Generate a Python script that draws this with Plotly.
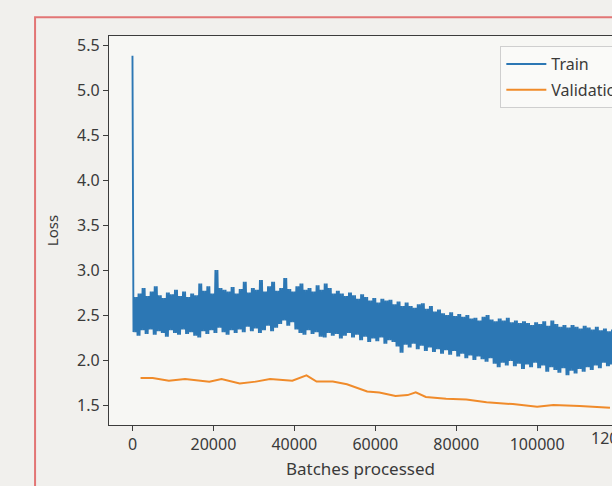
import plotly.graph_objects as go

# ---------------- data ----------------
# Training loss: first logged value (spike), then the low / high readings
# of the noisy band, one pair per 1000 batches.
train_first = 5.38
train_high = [
    2.70, 2.74, 2.80, 2.71, 2.76, 2.82, 2.72, 2.69, 2.75, 2.73,
    2.78, 2.71, 2.76, 2.70, 2.74, 2.72, 2.85, 2.77, 2.82, 2.74,
    3.00, 2.80, 2.78, 2.76, 2.81, 2.74, 2.79, 2.87, 2.75, 2.80,
    2.78, 2.89, 2.76, 2.82, 2.87, 2.77, 2.80, 2.91, 2.79, 2.76,
    2.82, 2.85, 2.78, 2.80, 2.76, 2.83, 2.78, 2.85, 2.80, 2.74,
    2.77, 2.74, 2.71, 2.75, 2.72, 2.68, 2.73, 2.70, 2.66, 2.69,
    2.64, 2.68, 2.66, 2.67, 2.62, 2.65, 2.60, 2.64, 2.60, 2.58,
    2.62, 2.63, 2.57, 2.60, 2.54, 2.56, 2.52, 2.50, 2.53, 2.49,
    2.51, 2.48, 2.50, 2.46, 2.47, 2.44, 2.48, 2.50, 2.45, 2.43,
    2.46, 2.44, 2.47, 2.42, 2.44, 2.41, 2.43, 2.41, 2.39, 2.42,
    2.40, 2.43, 2.38, 2.44, 2.40, 2.37, 2.39, 2.36, 2.39, 2.37,
    2.35, 2.38, 2.36, 2.34, 2.37, 2.33, 2.35, 2.32, 2.34,
]
train_low = [
    2.31, 2.27, 2.33, 2.29, 2.34, 2.28, 2.32, 2.30, 2.26, 2.33,
    2.30, 2.28, 2.34, 2.29, 2.31, 2.27, 2.25, 2.32, 2.29, 2.33,
    2.30, 2.36, 2.31, 2.28, 2.33, 2.30, 2.34, 2.31, 2.37, 2.32,
    2.35, 2.30, 2.33, 2.38, 2.32, 2.36, 2.40, 2.44, 2.38, 2.42,
    2.34, 2.30, 2.28, 2.33, 2.29, 2.31, 2.26, 2.25, 2.30, 2.27,
    2.29, 2.24, 2.27, 2.30, 2.25, 2.28, 2.22, 2.26, 2.20, 2.24,
    2.21, 2.25, 2.18, 2.22, 2.20, 2.15, 2.08, 2.17, 2.14, 2.18,
    2.12, 2.16, 2.10, 2.14, 2.09, 2.12, 2.07, 2.11, 2.06, 2.10,
    2.04, 2.07, 2.02, 2.05, 2.00, 2.04, 2.01, 1.98, 2.02, 1.96,
    1.92, 1.97, 1.94, 1.99, 1.93, 1.96, 1.90, 1.95, 1.92, 1.97,
    1.91, 1.94, 1.87, 1.92, 1.89, 1.86, 1.91, 1.83, 1.88, 1.85,
    1.90, 1.87, 1.92, 1.89, 1.94, 1.91, 1.97, 1.93, 1.95,
]
train_step = 250      # batches between logged training values
block_batches = 1000  # each low/high reading covers this many batches

val_batches = [2000, 5000, 9000, 13000, 19000, 22000, 26500, 30500, 34000,
               39500, 43000, 45500, 49500, 53000, 58000, 61000, 65000, 68000,
               70000, 72500, 77500, 82500, 87500, 94000, 100000, 104000,
               110500, 118000]
val_loss = [1.80, 1.80, 1.77, 1.79, 1.76, 1.79, 1.74, 1.76, 1.79, 1.77,
            1.83, 1.76, 1.76, 1.73, 1.65, 1.64, 1.60, 1.61, 1.64, 1.59,
            1.57, 1.56, 1.53, 1.51, 1.48, 1.50, 1.49, 1.47]

x_ticks = [0, 20000, 40000, 60000, 80000, 100000, 120000]
y_ticks = [1.5, 2.0, 2.5, 3.0, 3.5, 4.0, 4.5, 5.0, 5.5]
x_range = [-5800, 118500]
y_range = [1.278, 5.6]

# ---------------- build series ----------------
per_block = block_batches // train_step
train_loss = [train_first]
for lo, hi in zip(train_low, train_high):
    for j in range(per_block):
        train_loss.append(lo if j % 2 == 0 else hi)
train_batches = [i * train_step for i in range(len(train_loss))]

FONT = "Noto Sans"
TXT = "#3a3a3a"
AX = "#3c3c3c"

fig = go.Figure()
fig.add_trace(go.Scatter(x=train_batches, y=train_loss, mode="lines",
                         name="Train", legendgroup="a",
                         line=dict(color="#2c77b4", width=1.9)))
fig.add_trace(go.Scatter(x=val_batches, y=val_loss, mode="lines",
                         name="Validation", legendgroup="b",
                         line=dict(color="#f08b2a", width=2)))

# red frame around the figure (photographed page)
fig.add_shape(type="rect", xref="paper", yref="paper",
              x0=-0.147, x1=1.2, y0=-0.5, y1=1.048,
              line=dict(color="#e27575", width=2), fillcolor="rgba(0,0,0,0)",
              layer="below")

# partially visible last x tick label (its position lies past the crop)
fig.add_annotation(xref="paper", yref="paper",
                   x=(x_ticks[-1] - x_range[0]) / (x_range[1] - x_range[0]),
                   y=0, yshift=-13, text=f"{x_ticks[-1]}", showarrow=False,
                   xanchor="center", yanchor="middle",
                   font=dict(family=FONT, size=16, color=TXT))

fig.update_layout(
    width=612, height=486,
    margin=dict(l=109, r=0, t=36, b=61, autoexpand=False),
    paper_bgcolor="#f1f0ed", plot_bgcolor="#f7f7f4",
    font=dict(family=FONT, size=16, color=TXT),
    showlegend=True,
    legend=dict(x=0.778, y=0.974, xanchor="left", yanchor="top",
                bgcolor="rgba(250,250,248,0.9)", bordercolor="#cfcfcf",
                borderwidth=1, font=dict(family=FONT, size=16, color=TXT),
                traceorder="grouped", tracegroupgap=2, itemwidth=40),
    xaxis=dict(range=x_range, tickvals=x_ticks[:-1],
               ticktext=[str(v) for v in x_ticks[:-1]],
               showgrid=False, zeroline=False, showline=True,
               linecolor=AX, linewidth=1.3, mirror=True,
               ticks="outside", ticklen=5, tickwidth=1.2, tickcolor=AX,
               tickfont=dict(family=FONT, size=16, color=TXT),
               title=dict(text="Batches processed", standoff=8,
                          font=dict(family=FONT, size=17, color=TXT))),
    yaxis=dict(range=y_range, tickvals=y_ticks,
               ticktext=[f"{v:.1f}" for v in y_ticks],
               showgrid=False, zeroline=False, showline=True,
               linecolor=AX, linewidth=1.3, mirror=False,
               ticks="outside", ticklen=5, tickwidth=1.2, tickcolor=AX,
               tickfont=dict(family=FONT, size=16, color=TXT),
               title=dict(text="Loss", standoff=14,
                          font=dict(family=FONT, size=15, color=TXT))),
)

fig.write_html("out.html",
               config={"displayModeBar": False},
               post_script="document.body.style.margin='0';"
                           "document.body.style.padding='0';"
                           "document.body.style.overflow='hidden';")
